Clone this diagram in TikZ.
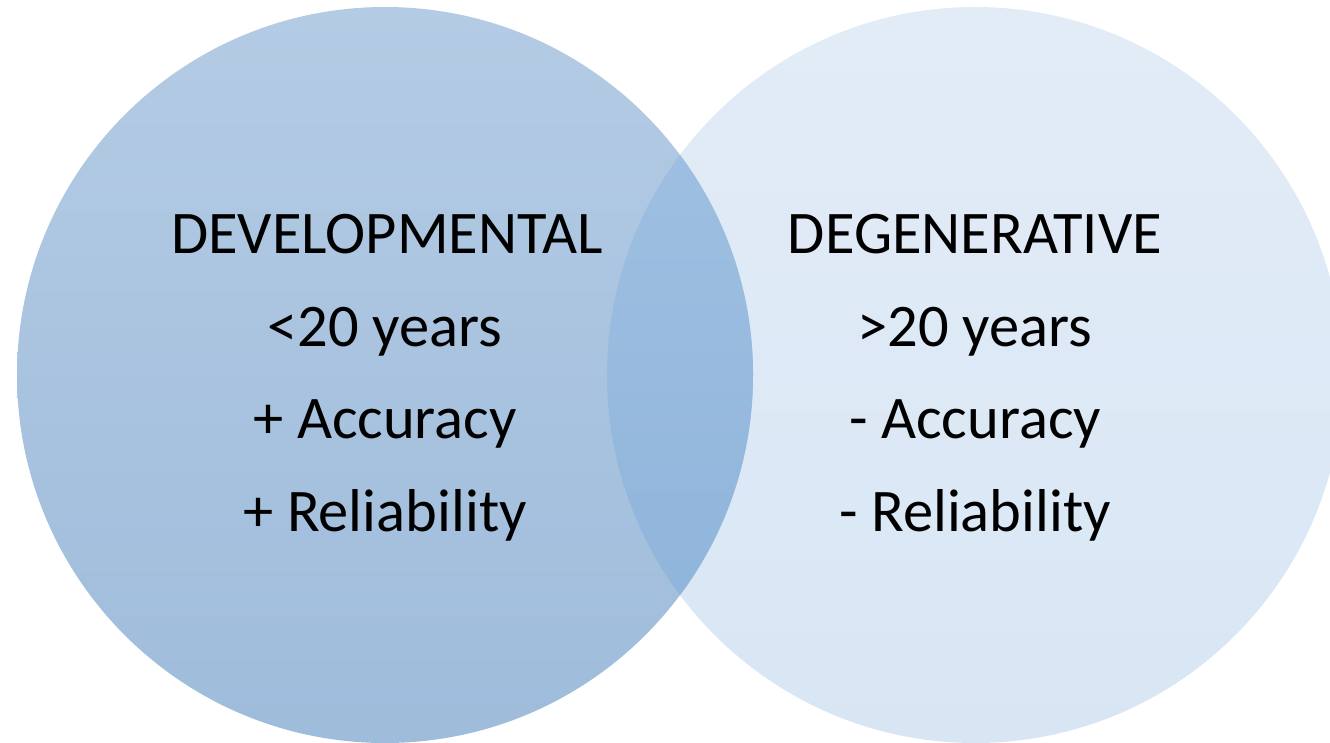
\documentclass[tikz,border=0pt]{standalone}
\usepackage{fontspec}
\setmainfont{Carlito}
\definecolor{leftTop}{HTML}{B4CBE4}
\definecolor{leftBot}{HTML}{9EBCDB}
\definecolor{rightTop}{HTML}{E2ECF7}
\definecolor{rightBot}{HTML}{D8E6F4}
\definecolor{lensTop}{HTML}{A2C2E3}
\definecolor{lensBot}{HTML}{8CB2D9}
\begin{document}
\begin{tikzpicture}[x=1pt,y=-1pt,
  label/.style={anchor=base,inner sep=0pt,font=\fontsize{60.5}{70}\selectfont,text=black}]
\useasboundingbox (0,0) rectangle (1330,743);
\begin{scope}
  \clip (0,0) rectangle (1330,743);
  % right set (degenerative)
  \shade[top color=rightTop,bottom color=rightBot] (975,375) circle[radius=368];
  % left set (developmental)
  \shade[top color=leftTop,bottom color=leftBot] (385,375) circle[radius=368];
  % overlap of the two sets
  \begin{scope}
    \clip (385,375) circle[radius=368];
    \shade[top color=lensTop,bottom color=lensBot] (975,375) circle[radius=368];
  \end{scope}
\end{scope}
% left set labels
\node[label] (dev)  at (387,254) {DEVELOPMENTAL};
\node[label] (devA) at (385,346) {<20 years};
\node[label] (devB) at (385,438) {+ Accuracy};
\node[label] (devC) at (385,531) {+ Reliability};
% right set labels
\node[label] (deg)  at (975,254) {DEGENERATIVE};
\node[label] (degA) at (975,346) {>20 years};
\node[label] (degB) at (975,438) {- Accuracy};
\node[label] (degC) at (975,531) {- Reliability};
\end{tikzpicture}
\end{document}
